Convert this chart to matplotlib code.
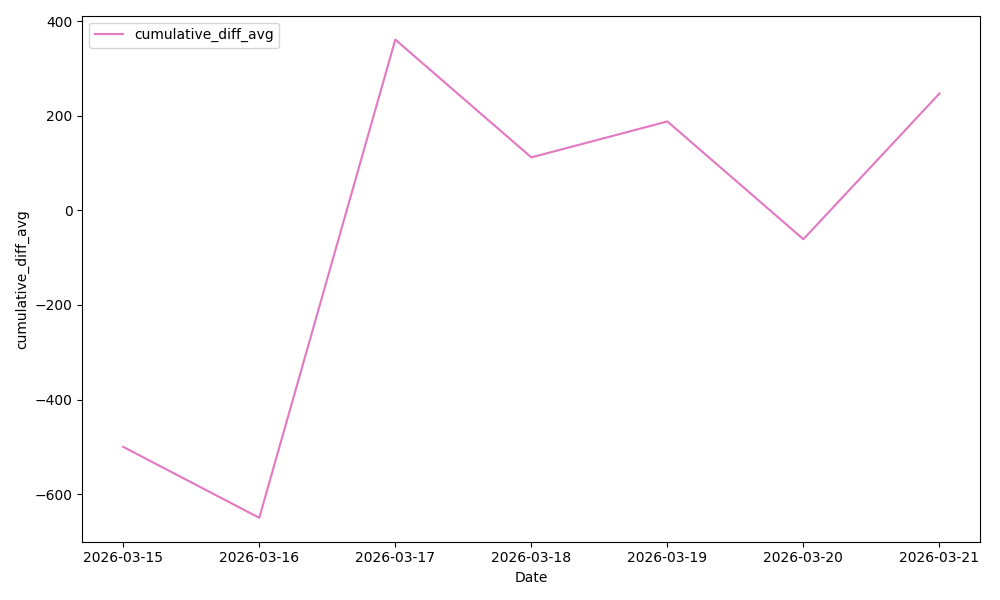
import matplotlib
matplotlib.use("Agg")
import matplotlib.pyplot as plt
import pandas as pd

dates = ["2026-03-15", "2026-03-16", "2026-03-17", "2026-03-18",
         "2026-03-19", "2026-03-20", "2026-03-21"]
cumulative_diff_avg = [-500, -650, 361, 112, 188, -61, 247]

df = pd.DataFrame({"Date": dates, "cumulative_diff_avg": cumulative_diff_avg})

fig, ax = plt.subplots(figsize=(10, 6), dpi=100)
ax.plot(df["Date"], df["cumulative_diff_avg"], color="#e377c2",
        label="cumulative_diff_avg")
ax.set_xlabel("Date")
ax.set_ylabel("cumulative_diff_avg")
ax.legend(loc="upper left")
fig.tight_layout()
fig.savefig("out.png")
